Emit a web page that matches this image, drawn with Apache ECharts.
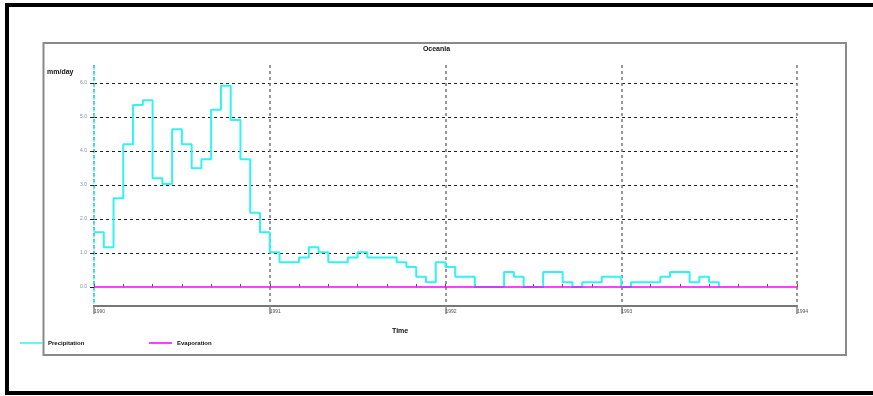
<!DOCTYPE html>
<html>
<head>
<meta charset="utf-8">
<script src="https://cdn.jsdelivr.net/npm/echarts@6/dist/echarts.min.js"></script>
<style>
html,body{margin:0;padding:0;background:#fff;}
#c{width:873px;height:396px;}
</style>
</head>
<body>
<div id="c"></div>
<script>
// ---- data ----
const timeSteps = [0,1,2,3,4,5,6,7,8,9,10,11,12,13,14,15,16,17,18,19,20,21,22,23,24,25,26,27,28,29,30,31,32,33,34,35,36,37,38,39,40,41,42,43,44,45,46,47,48,49,50,51,52,53,54,55,56,57,58,59,60,61,62,63,64];
const precipitation = [1.61,1.17,2.61,4.20,5.35,5.49,3.20,3.03,4.64,4.20,3.49,3.76,5.21,5.92,4.91,3.76,2.18,1.61,1.02,0.73,0.73,0.87,1.17,1.02,0.73,0.73,0.87,1.02,0.87,0.87,0.87,0.73,0.59,0.30,0.14,0.73,0.59,0.30,0.30,0,0,0,0.44,0.30,0,0,0.44,0.44,0.14,0,0.14,0.14,0.30,0.30,0,0.14,0.14,0.14,0.30,0.44,0.44,0.14,0.30,0.14,0];
const evapSteps = [0,72];
const evaporation = [0,0];
const yTickValues = [0,1,2,3,4,5,6];
const yTickLabels = ['0.0','1.0','2.0','3.0','4.0','5.0','6.0'];
const xTickValues = [0,18,36,54,72];
const xTickLabels = ['1990','1991','1992','1993','1994'];

const precipData = timeSteps.map((t,i)=>[t, precipitation[i]]);
const evapData = evapSteps.map((t,i)=>[t, evaporation[i]]);

const chart = echarts.init(document.getElementById('c'), null, {renderer:'canvas'});
const font = 'Liberation Sans, DejaVu Sans, sans-serif';
chart.setOption({
  animation:false,
  backgroundColor:'#fff',
  title:{text:'Oceania', left:'center', top:46, padding:0,
    textStyle:{fontSize:7, fontWeight:'bold', color:'#111', fontFamily:font}},
  legend:[
    {data:['Precipitation'], left:20, top:340, padding:0, icon:'rect', itemWidth:23, itemHeight:1.5,
      textStyle:{fontSize:6, fontWeight:'bold', color:'#111', fontFamily:font}},
    {data:['Evaporation'], left:149, top:340, padding:0, icon:'rect', itemWidth:23, itemHeight:1.5,
      textStyle:{fontSize:6, fontWeight:'bold', color:'#111', fontFamily:font}}
  ],
  graphic:[
    {type:'rect', silent:true, z:-1, shape:{x:7, y:5, width:880, height:388},
      style:{fill:null, stroke:'#000', lineWidth:4}},
    {type:'rect', silent:true, z:-1, shape:{x:43.5, y:43, width:802.5, height:312},
      style:{fill:null, stroke:'#8a8a8a', lineWidth:2}},
    {type:'text', left:47, top:69, style:{text:'mm/day', fill:'#111', font:'bold 7px Liberation Sans'}},
    {type:'text', left:392, top:328, style:{text:'Time', fill:'#111', font:'bold 7px Liberation Sans'}}
  ],
  grid:{left:94, right:76, top:65, bottom:90, containLabel:false},
  xAxis:[
    {type:'value', min:0, max:72, interval:18,
      axisLine:{show:true, onZero:false, lineStyle:{color:'#777', width:2}},
      axisTick:{show:true, length:8, lineStyle:{color:'#888', width:1.5}},
      axisLabel:{show:true, align:'left', margin:3, fontSize:5, color:'#555', fontFamily:font,
        formatter:(v)=>{const i=xTickValues.indexOf(v); return i>=0?xTickLabels[i]:'';}},
      splitLine:{show:true, showMinLine:true, showMaxLine:true, lineStyle:{color:'#777', type:[3,3], width:1.5}}},
    {type:'value', min:0, max:72, interval:3, position:'bottom',
      axisLine:{show:false}, axisLabel:{show:false}, splitLine:{show:false},
      axisTick:{show:true, inside:true, length:3, lineStyle:{color:'#555', width:1}}}
  ],
  yAxis:{type:'value', min:-0.56, max:6.53, splitNumber:7,
    axisLine:{show:true, onZero:false, lineStyle:{color:'#33f0f0', width:1.5, type:[3,3], dashOffset:3}},
    axisTick:{show:true, length:4, customValues:yTickValues, lineStyle:{color:'#222'}},
    axisLabel:{show:true, margin:7, fontSize:5, color:'#7f8f9f', fontFamily:font, customValues:yTickValues,
      formatter:(v)=>{const i=yTickValues.indexOf(v); return i>=0?yTickLabels[i]:'';}},
    splitLine:{show:true, showMinLine:false, showMaxLine:true, lineStyle:{color:'#222', type:[3,3], width:1}}},
  series:[
    {name:'Precipitation', type:'line', step:'end', data:precipData, showSymbol:false, symbol:'none',
      color:'#33f2f2', lineStyle:{color:'#33f2f2', width:2}, z:3},
    {name:'Evaporation', type:'line', data:evapData, showSymbol:false, symbol:'none',
      color:'#ff00ff', lineStyle:{color:'#ff00ff', width:1.5}, z:4}
  ]
});
</script>
</body>
</html>
